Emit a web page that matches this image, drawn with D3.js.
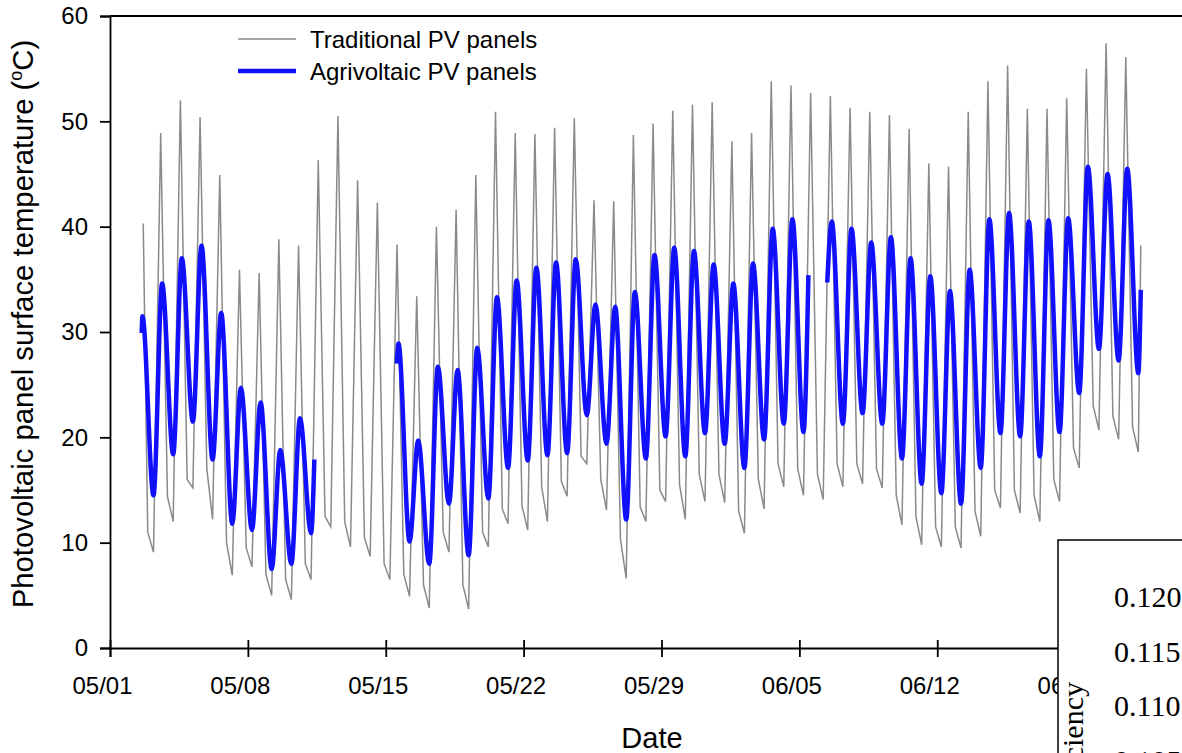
<!DOCTYPE html>
<html>
<head>
<meta charset="utf-8">
<script src="https://cdn.jsdelivr.net/npm/d3@7"></script>
<style>
  body { margin: 0; background: #fff; }
  svg { display: block; font-family: "Liberation Sans", Arial, sans-serif; }
</style>
</head>
<body>
<div id="chart"></div>
<script>
var width = 1182, height = 753
var margin = {top: 16, left: 110, bottom: 105}

// one entry per day, 05/02 .. 06/22
var days = ["05/02","05/03","05/04","05/05","05/06","05/07","05/08","05/09","05/10","05/11",
  "05/12","05/13","05/14","05/15","05/16","05/17","05/18","05/19","05/20","05/21",
  "05/22","05/23","05/24","05/25","05/26","05/27","05/28","05/29","05/30","05/31",
  "06/01","06/02","06/03","06/04","06/05","06/06","06/07","06/08","06/09","06/10",
  "06/11","06/12","06/13","06/14","06/15","06/16","06/17","06/18","06/19","06/20",
  "06/21","06/22"]

// Traditional PV panels: early morning low, midday high, late evening value
var tradLow = [null, 9.1, 12.0, 15.2, 12.2, 6.9, 7.7, 5.0, 4.6, 6.5,
  11.5, 9.6, 8.7, 6.5, 4.9, 3.8, 9.1, 3.7, 9.6, 11.8,
  11.2, 12.0, 14.4, 17.5, 13.1, 6.6, 12.0, 13.9, 12.2, 13.9,
  13.8, 10.9, 13.2, 15.3, 14.5, 14.1, 15.3, 15.6, 15.2, 11.7,
  9.8, 9.6, 9.5, 10.6, 13.3, 12.8, 12.0, 13.9, 17.1, 20.7,
  19.8, 18.6]
var tradHigh = [null, 48.9, 52.0, 50.4, 44.9, 35.9, 35.6, 38.8, 38.2, 46.3,
  50.5, 44.4, 42.3, 38.3, 33.4, 40.0, 41.6, 44.9, 50.9, 48.9,
  48.8, 49.4, 50.3, 42.5, 42.4, 48.7, 49.8, 51.0, 51.6, 51.8,
  48.1, 48.9, 53.8, 53.4, 52.7, 52.4, 51.3, 50.9, 50.6, 49.3,
  46.0, 45.7, 50.9, 53.8, 55.3, 51.2, 51.2, 52.2, 55.0, 57.4,
  56.1, null]
var tradNight = [11.0, 14.4, 16.0, 17.0, 10.0, 9.5, 7.0, 6.5, 8.0, 12.5,
  12.0, 10.5, 8.0, 7.0, 6.0, 11.0, 6.0, 11.0, 13.2, 13.5,
  15.3, 15.8, 18.2, 16.0, 10.3, 13.4, 15.0, 15.5, 16.5, 16.5,
  13.0, 16.0, 17.5, 17.0, 16.5, 17.5, 17.5, 17.0, 14.5, 12.5,
  11.5, 11.5, 13.0, 15.0, 15.0, 14.5, 16.0, 19.0, 23.0, 22.0,
  21.0, null]
var tradExtra = [["05/02 16:30", 40.3], ["06/22 08:00", 38.2]]

// Agrivoltaic PV panels: early morning low, afternoon high
var agriLow = [null, 14.5, 18.4, 21.5, 17.9, 11.8, 11.2, 7.5, 8.0, 10.9,
  null, null, null, null, 10.1, 8.0, 13.7, 8.8, 14.2, 17.1,
  17.8, 18.3, 18.5, 22.1, 19.4, 12.2, 18.0, 20.1, 18.2, 20.4,
  19.4, 17.1, 19.8, 21.3, 20.5, null, 21.3, 22.3, 21.3, 18.0,
  15.6, 14.7, 13.7, 17.1, 20.4, 20.1, 18.2, 20.5, 24.2, 28.4,
  27.3, 26.1]
var agriHigh = [31.5, 34.6, 37.0, 38.2, 31.8, 24.7, 23.3, 18.8, 21.8, null,
  null, null, null, 28.9, 19.7, 26.7, 26.4, 28.5, 33.3, 34.9,
  36.1, 36.6, 36.9, 32.6, 32.4, 33.8, 37.3, 38.0, 37.7, 36.4,
  34.6, 36.5, 39.8, 40.7, null, 40.5, 39.8, 38.5, 39.0, 37.0,
  35.3, 33.9, 35.9, 40.7, 41.3, 40.5, 40.6, 40.8, 45.7, 45.0,
  45.5, null]
var agriExtra = [["05/02 14:40", 29.9], ["05/11 09:00", 17.9], ["05/15 13:30", 27.0],
  ["06/05 11:00", 35.4], ["06/06 10:00", 34.7], ["06/22 08:00", 34.0]]

var xTicks = ["05/01", "05/08", "05/15", "05/22", "05/29", "06/05", "06/12", "06/19"]
var yTicks = [0, 10, 20, 30, 40, 50, 60]
var insetTicks = ["0.120", "0.115", "0.110", "0.105"]

var parseTime = d3.timeParse("%m/%d %H:%M")

var svg = d3.select("#chart")
  .append("svg")
  .attr("width", width)
  .attr("height", height)

var xScale = d3.scaleTime()
  .domain([parseTime("05/01 00:00"), parseTime("06/26 00:00")])
  .range([margin.left, 1213])

var yScale = d3.scaleLinear()
  .domain([0, 60])
  .range([height - margin.bottom, margin.top])

function buildSeries(low, high, night, highHour, extra) {
  var pts = []
  days.forEach(function(d, i) {
    pts.push({t: parseTime(d + " 05:00"), v: low[i]})
    pts.push({t: parseTime(d + " " + highHour), v: high[i]})
    if (night) pts.push({t: parseTime(d + " 22:00"), v: night[i]})
  })
  extra.forEach(function(e) {
    pts.push({t: parseTime(e[0]), v: e[1]})
  })
  pts.sort(function(a, b) { return a.t - b.t })
  return pts
}

var tradSeries = buildSeries(tradLow, tradHigh, tradNight, "13:45", tradExtra)
var agriSeries = buildSeries(agriLow, agriHigh, null, "15:30", agriExtra)

var tradLine = d3.line()
  .defined(function(d) { return d.v != null })
  .x(function(d) { return xScale(d.t) })
  .y(function(d) { return yScale(d.v) })

var agriLine = d3.line()
  .defined(function(d) { return d.v != null })
  .curve(d3.curveMonotoneX)
  .x(function(d) { return xScale(d.t) })
  .y(function(d) { return yScale(d.v) })

svg.append("path")
  .datum(tradSeries)
  .attr("d", tradLine)
  .attr("fill", "none")
  .attr("stroke", "#8a8a8a")
  .attr("stroke-width", 1.5)

svg.append("path")
  .datum(agriSeries)
  .attr("d", agriLine)
  .attr("fill", "none")
  .attr("stroke", "#1010ff")
  .attr("stroke-width", 4.5)
  .attr("stroke-linejoin", "round")

// top frame line
svg.append("line")
  .attr("x1", margin.left)
  .attr("x2", width)
  .attr("y1", margin.top)
  .attr("y2", margin.top)
  .attr("stroke", "black")
  .attr("stroke-width", 1.8)

// X axis
var xAxis = d3.axisBottom(xScale)
  .tickValues(xTicks.map(function(d) { return parseTime(d + " 00:00") }))
  .tickFormat(d3.timeFormat("%m/%d"))
  .tickSizeOuter(0)
  .tickSize(9)
  .tickPadding(20)

var gx = svg.append("g")
  .attr("transform", `translate(0,${yScale(0)})`)
  .call(xAxis)
gx.selectAll(".tick line").attr("y1", -8).attr("stroke-width", 1.8)
gx.select(".domain").attr("stroke-width", 1.8)
gx.selectAll("text")
  .attr("dx", -8)
  .style("font-family", '"Liberation Sans", Arial, sans-serif')
  .style("font-size", "24px")
  .attr("fill", "black")

// Y axis
var yAxis = d3.axisLeft(yScale)
  .tickValues(yTicks)
  .tickSizeOuter(0)
  .tickSize(10)
  .tickPadding(12)

var gy = svg.append("g")
  .attr("transform", `translate(${margin.left},0)`)
  .call(yAxis)
gy.selectAll(".tick line").attr("stroke-width", 1.8)
gy.select(".domain").attr("stroke-width", 1.8)
gy.selectAll("text")
  .style("font-family", '"Liberation Sans", Arial, sans-serif')
  .style("font-size", "24px")
  .attr("fill", "black")

// axis titles
svg.append("text")
  .attr("x", 652)
  .attr("y", 748)
  .attr("text-anchor", "middle")
  .style("font-size", "29px")
  .text("Date")

var yTitle = svg.append("text")
  .attr("transform", "translate(33,324) rotate(-90)")
  .attr("text-anchor", "middle")
  .style("font-size", "29.3px")
yTitle.append("tspan").text("Photovoltaic panel surface temperature (")
yTitle.append("tspan").attr("dy", -11).style("font-size", "18px").text("o")
yTitle.append("tspan").attr("dy", 11).text("C)")

// legend
var legend = [
  {label: "Traditional PV panels", color: "#8a8a8a", w: 1.5},
  {label: "Agrivoltaic PV panels", color: "#1010ff", w: 4.5}
]
var lg = svg.append("g")
lg.selectAll("line")
  .data(legend)
  .enter()
  .append("line")
  .attr("x1", 238)
  .attr("x2", 296)
  .attr("y1", function(d, i) { return 39 + i * 32 })
  .attr("y2", function(d, i) { return 39 + i * 32 })
  .attr("stroke", function(d) { return d.color })
  .attr("stroke-width", function(d) { return d.w })
lg.selectAll("text")
  .data(legend)
  .enter()
  .append("text")
  .attr("x", 310)
  .attr("y", function(d, i) { return 48 + i * 32 })
  .style("font-size", "24px")
  .text(function(d) { return d.label })

// overlapping panel of the next figure
var inset = svg.append("g")
inset.append("rect")
  .attr("x", 1058)
  .attr("y", 540)
  .attr("width", 200)
  .attr("height", 300)
  .attr("fill", "white")
  .attr("stroke", "black")
  .attr("stroke-width", 1.5)
inset.selectAll("text.tick")
  .data(insetTicks)
  .enter()
  .append("text")
  .attr("class", "tick")
  .attr("x", 1114)
  .attr("y", function(d, i) { return 607 + i * 54.5 })
  .style("font-family", '"Liberation Serif", "Times New Roman", serif')
  .style("font-size", "30px")
  .text(function(d) { return d })
inset.append("text")
  .attr("transform", "translate(1083,682) rotate(-90)")
  .attr("text-anchor", "end")
  .style("font-family", '"Liberation Serif", "Times New Roman", serif')
  .style("font-size", "30px")
  .text("Efficiency")
</script>
</body>
</html>
